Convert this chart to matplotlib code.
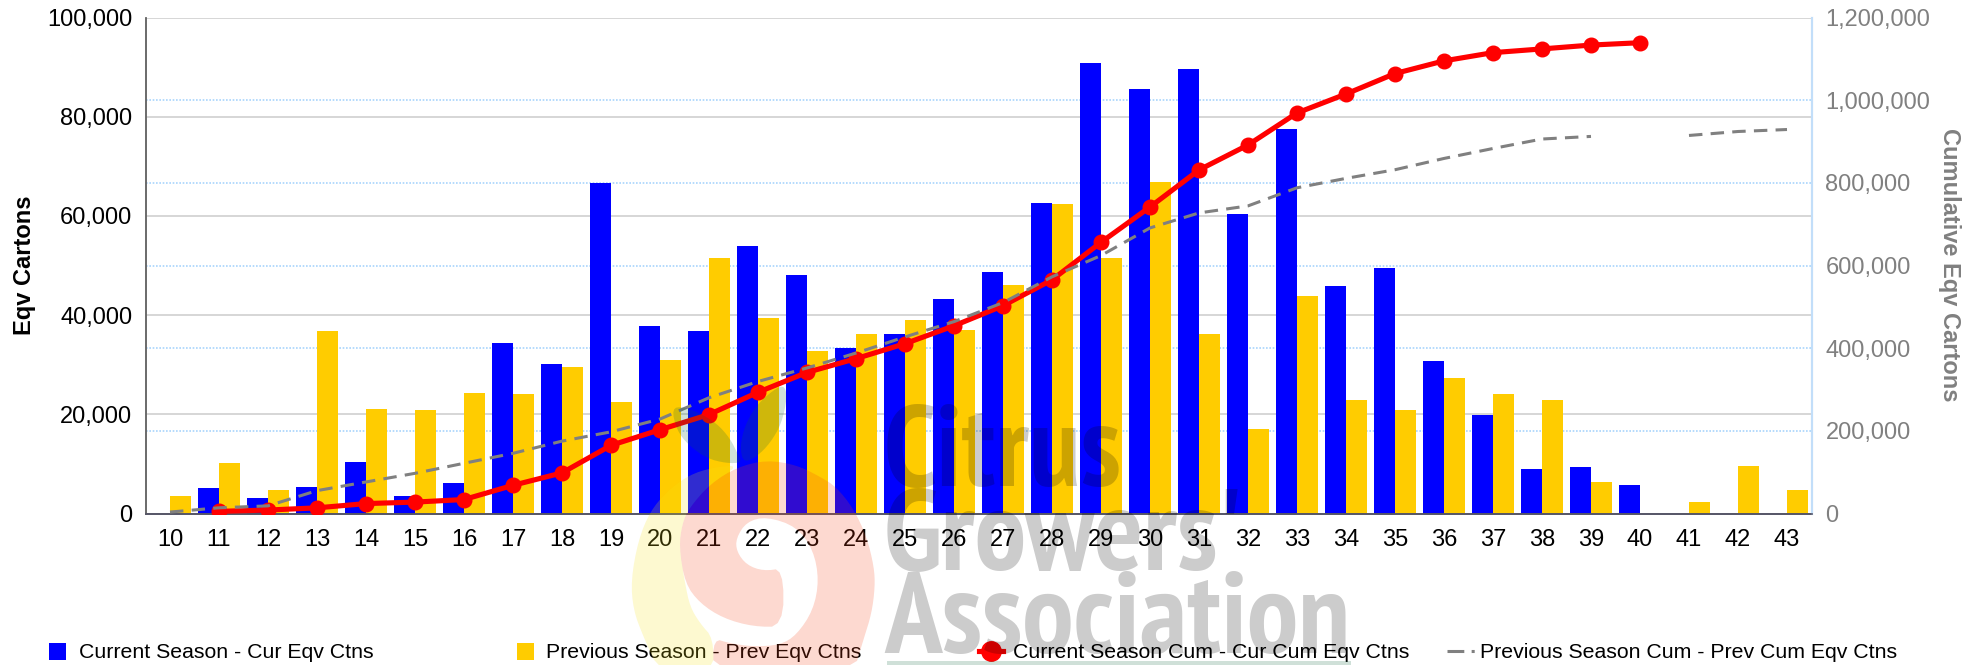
import numpy as np
import matplotlib
matplotlib.use('Agg')
import matplotlib.pyplot as plt
from matplotlib.lines import Line2D
from matplotlib.patches import Polygon, Rectangle
from matplotlib.ticker import FuncFormatter

W, H = 1986, 665

weeks = [str(w) for w in range(10, 44)]

cur_ctns = [np.nan, 5180, 3170, 5320, 10360, 3530, 6190, 34400, 30140, 66600, 37770, 36760,
            53900, 48050, 33330, 36160, 43210, 48650, 62570, 90790, 85550, 89580, 60350,
            77490, 45830, 49500, 30720, 19860, 8990, 9350, 5755, np.nan, np.nan, np.nan]
prev_ctns = [3530, 10220, 4750, 36760, 21080, 20860, 24300, 24100, 29500, 22450, 30940, 51480,
             39380, 32730, 36160, 38980, 36960, 46030, 62370, 51480, 66800, 36290, 17000,
             43800, 22880, 20860, 27340, 24100, 22880, 6330, np.nan, 2300, 9570, 4750]
cur_cum = [np.nan, 5200, 8350, 13700, 24000, 27600, 33800, 68200, 98300, 164900, 202700, 239400,
           293300, 341400, 374700, 410900, 454100, 502700, 565300, 656100, 741600, 831200,
           891600, 969100, 1014900, 1064400, 1095100, 1115000, 1124000, 1133300, 1139000,
           np.nan, np.nan, np.nan]
prev_cum = [3500, 13800, 18500, 55300, 76300, 97200, 121500, 145600, 175100, 197600, 228500,
            280000, 319400, 352100, 388200, 427200, 464200, 510200, 572600, 624100, 690900,
            727200, 744200, 788000, 810800, 831700, 859000, 883100, 906000, 912300, np.nan,
            914600, 924200, 929000]

left_ticks = [0, 20000, 40000, 60000, 80000, 100000]
right_ticks = [0, 200000, 400000, 600000, 800000, 1000000, 1200000]

plt.rcParams['font.family'] = ['Liberation Sans', 'DejaVu Sans']
BLUE, GOLD, RED, GREY = '#0000ff', '#ffcc00', '#ff0000', '#808080'
TICK_SIZE = 17

fig = plt.figure(figsize=(W / 100, H / 100), dpi=100, facecolor='white')
ax = fig.add_axes([145.5 / W, 1 - 513.5 / H, (1811.5 - 145.5) / W, (513.5 - 17.5) / H])
ax2 = ax.twinx()

x = np.arange(len(weeks))
ax.bar(x - 0.215, cur_ctns, width=0.41, color=BLUE, zorder=2)
ax.bar(x + 0.215, prev_ctns, width=0.41, color=GOLD, zorder=2)

ax.set_xlim(-0.5, len(weeks) - 0.5)
ax.set_ylim(0, 100000)
ax2.set_ylim(0, 1200000)

# both grids live on the left axes so that the bars hide them
ax.set_axisbelow(True)
ax.set_yticks(left_ticks)
ax.set_yticks([v * 100000 / 1200000 for v in right_ticks], minor=True)
ax.grid(axis='y', which='major', color='#cfcfcf', lw=1.2)
ax.grid(axis='y', which='minor', color='#a8d4fc', lw=1.2, ls=(0, (1, 1)))

ax2.plot(x, cur_cum, color=RED, lw=3.7, marker='o', ms=10.5, zorder=3)
ax2.plot(x, prev_cum, color=GREY, lw=2.2, dashes=(4.4, 2.7), zorder=4)
ax2.set_yticks(right_ticks)

fmt = FuncFormatter(lambda v, _: f'{int(v):,}')
ax.yaxis.set_major_formatter(fmt)
ax2.yaxis.set_major_formatter(fmt)
ax.set_xticks(x, weeks)
ax.tick_params(axis='x', length=0, pad=11.5, labelsize=TICK_SIZE)
ax.tick_params(axis='y', which='both', length=0, pad=9.5, labelsize=TICK_SIZE)
ax2.tick_params(axis='y', length=0, pad=10, labelsize=TICK_SIZE, labelcolor=GREY)

for a in (ax, ax2):
    a.spines['top'].set_visible(False)
    a.spines['left'].set_color('#666666')
    a.spines['left'].set_linewidth(1.1)
    a.spines['bottom'].set_color('#555566')
    a.spines['bottom'].set_linewidth(1.2)
    a.spines['right'].set_color('#c2def9')
    a.spines['right'].set_linewidth(1.5)

fig.text(24 / W, 1 - 265 / H, 'Eqv Cartons', rotation=90, fontsize=17, fontweight='bold',
         ha='center', va='center')
fig.text(1950 / W, 1 - 265 / H, 'Cumulative Eqv Cartons', rotation=-90, fontsize=17,
         fontweight='bold', color=GREY, ha='center', va='center')


def px(pts):
    return [(p[0] / W, 1 - p[1] / H) for p in pts]


def smooth(pts, rounds=2):
    # corner cutting, the traced outlines are coarse
    pts = np.asarray(pts, float)
    for _ in range(rounds):
        nxt = np.roll(pts, -1, axis=0)
        pts = np.column_stack([0.75 * pts + 0.25 * nxt, 0.25 * pts + 0.75 * nxt]).reshape(-1, 2)
    return pts


# legend, placed by hand since the gaps between the entries differ
legend_y = 651
fig.add_artist(Rectangle((49 / W, 1 - 660 / H), 17 / W, 17 / H, color=BLUE, lw=0,
                         transform=fig.transFigure))
fig.add_artist(Rectangle((517 / W, 1 - 660 / H), 17 / W, 17 / H, color=GOLD, lw=0,
                         transform=fig.transFigure))
fig.add_artist(Line2D([979 / W, 1003 / W], [1 - legend_y / H] * 2, color=RED, lw=3.7,
                      transform=fig.transFigure))
fig.add_artist(Line2D([991 / W], [1 - legend_y / H], color=RED, marker='o', ms=14,
                      transform=fig.transFigure))
fig.add_artist(Line2D([1447 / W, 1475 / W], [1 - legend_y / H] * 2, color=GREY, lw=2.2,
                      dashes=(5.5, 2.4, 1, 5), transform=fig.transFigure))
legend_labels = ['Current Season - Cur Eqv Ctns', 'Previous Season - Prev Eqv Ctns',
                 'Current Season Cum - Cur Cum Eqv Ctns', 'Previous Season Cum - Prev Cum Eqv Ctns']
for lx, label in zip([79, 546.5, 1013, 1480], legend_labels):
    fig.text(lx / W, 1 - legend_y / H, label, fontsize=15.3, ha='left', va='center_baseline')

# watermark logo, outlines traced in pixels of the crop at (600, 380), 3x
salmon = [(237, 500), (247, 430), (267, 385), (330, 312), (410, 262), (500, 240), (590, 255),
          (660, 290), (708, 320), (760, 385), (800, 470), (822, 560), (825, 620), (815, 700),
          (790, 780), (760, 880), (340, 880), (340, 775), (390, 790), (460, 800), (540, 795),
          (590, 765), (640, 690), (657, 600), (640, 510), (590, 440), (500, 410), (440, 425),
          (408, 475), (410, 515), (440, 555), (490, 573), (550, 565), (550, 740), (460, 740),
          (370, 715), (300, 670), (255, 610)]
yellow = [(420, 255), (340, 262), (267, 285), (200, 335), (150, 395), (115, 480), (93, 600),
          (100, 690), (130, 770), (180, 880), (340, 880), (340, 775), (300, 730), (270, 680),
          (255, 610), (237, 500), (247, 430), (267, 385), (330, 312)]
leaf_l = [(215, 85), (250, 80), (300, 100), (350, 130), (390, 175), (415, 225), (425, 248),
          (380, 250), (320, 235), (265, 195), (230, 150)]
leaf_r = [(430, 248), (420, 200), (435, 135), (470, 75), (520, 30), (552, 15), (562, 50),
          (545, 130), (510, 190), (470, 230)]
logo = [(salmon, (245, 65, 20)), (yellow, (245, 225, 20)),
        (leaf_l, (15, 100, 60)), (leaf_r, (15, 100, 60))]
for pts, rgb in logo:
    pts = [(600 + p[0] / 3, 380 + p[1] / 3) for p in smooth(pts)]
    fig.add_artist(Polygon(px(pts), closed=True, transform=fig.transFigure, lw=0,
                           fc=(rgb[0] / 255, rgb[1] / 255, rgb[2] / 255, 0.2), zorder=5))

wm_font = ['PT Sans Narrow', 'Liberation Sans']
for word, base in zip(['Citrus', "Growers'", 'Association'], [486, 570, 653]):
    fig.text(884 / W, 1 - base / H, word, fontsize=83, fontweight='bold', family=wm_font,
             color=(0, 0, 0, 0.2), ha='left', va='baseline', zorder=6)
fig.add_artist(Rectangle((887 / W, 1 - 665 / H), 464 / W, 4 / H, lw=0,
                         fc=(15 / 255, 100 / 255, 60 / 255, 0.2), transform=fig.transFigure,
                         zorder=5))

fig.savefig('out.png', dpi=100)
